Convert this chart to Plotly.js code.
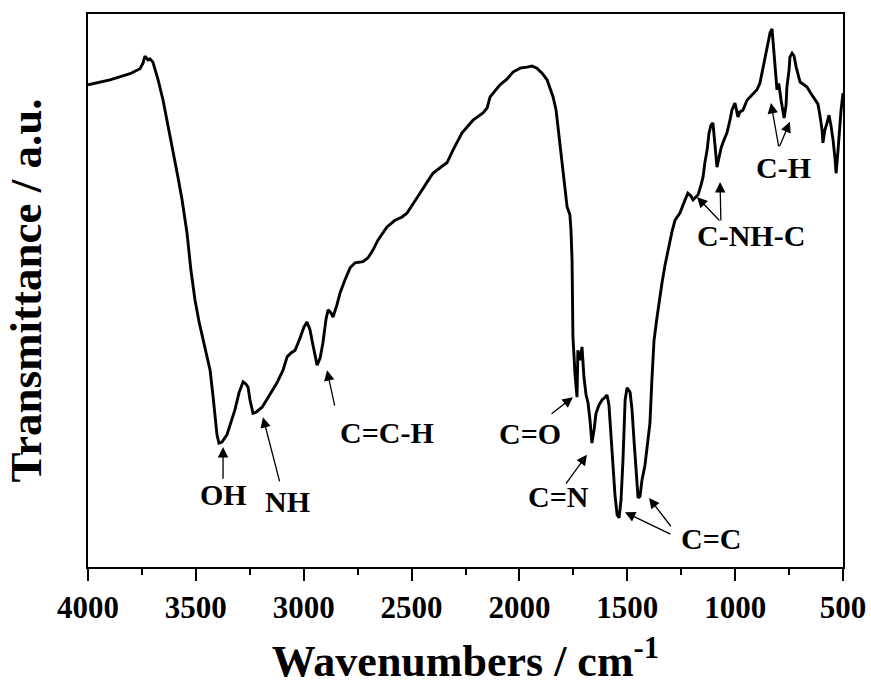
<!DOCTYPE html>
<html>
<head>
<meta charset="utf-8">
<script src="https://cdn.plot.ly/plotly-3.0.1.min.js"></script>
<style>
  html, body { margin: 0; padding: 0; background: #ffffff; }
  #chart { width: 871px; height: 686px; }
</style>
</head>
<body>
<div id="chart"></div>
<script>
// FTIR spectrum: wavenumber (cm^-1) vs. transmittance (arbitrary units)
const wavenumber = [
  4000, 3898, 3805, 3759, 3745, 3736, 3722, 3713, 3699, 3675,
  3652, 3629, 3606, 3583, 3564, 3541, 3523, 3504, 3485, 3467,
  3448, 3434, 3421, 3411, 3402, 3393, 3379, 3356, 3337, 3319,
  3300, 3281, 3268, 3258, 3249, 3235, 3221, 3193, 3166, 3124,
  3096, 3077, 3059, 3040, 3017, 2999, 2985, 2971, 2957, 2938,
  2924, 2911, 2897, 2887, 2873, 2864, 2846, 2832, 2809, 2785,
  2762, 2725, 2702, 2679, 2656, 2632, 2614, 2577, 2544, 2521,
  2489, 2461, 2428, 2401, 2368, 2336, 2308, 2266, 2215, 2169,
  2150, 2136, 2090, 2058, 2030, 1997, 1965, 1942, 1919, 1895,
  1872, 1858, 1844, 1830, 1821, 1812, 1798, 1789, 1779, 1766,
  1761, 1756, 1754, 1752, 1742, 1733, 1729, 1719, 1710, 1701,
  1691, 1682, 1673, 1664, 1654, 1645, 1631, 1617, 1603, 1594,
  1585, 1575, 1566, 1557, 1547, 1538, 1529, 1520, 1510, 1501,
  1487, 1478, 1469, 1460, 1450, 1441, 1432, 1418, 1404, 1395,
  1386, 1376, 1362, 1348, 1339, 1325, 1311, 1293, 1279, 1256,
  1232, 1219, 1205, 1195, 1182, 1172, 1158, 1149, 1140, 1130,
  1121, 1112, 1103, 1093, 1084, 1075, 1065, 1052, 1038, 1024,
  1015, 1001, 987, 978, 964, 945, 931, 917, 899, 885,
  871, 862, 848, 838, 829, 820, 815, 806, 801, 797,
  787, 783, 773, 764, 760, 750, 746, 736, 727, 717,
  708, 699, 681, 667, 653, 639, 625, 616, 607, 597,
  593, 584, 574, 565, 556, 546, 537, 532, 523, 518,
  509, 500
];

const transmittance = [
  87.2, 88.1, 89.2, 90.1, 91.1, 92.4, 91.7, 91.9, 91.3, 88.1,
  84.4, 79.9, 75.4, 70.5, 66.4, 60.4, 53.7, 48.3, 44.3, 41.0,
  38.0, 35.6, 31.1, 26.6, 23.9, 22.4, 22.6, 23.9, 26.2, 28.4,
  31.5, 33.5, 33.1, 32.5, 30.2, 27.8, 28.0, 28.9, 30.6, 33.3,
  35.6, 38.0, 38.7, 39.2, 41.4, 43.4, 44.3, 42.9, 40.1, 36.5,
  37.8, 40.5, 44.7, 46.5, 45.9, 45.2, 47.4, 49.5, 51.9, 54.1,
  55.0, 55.2, 55.9, 57.3, 59.1, 60.6, 61.5, 62.7, 63.3, 64.0,
  65.8, 67.6, 69.6, 71.2, 72.2, 73.1, 75.4, 78.5, 80.8, 82.1,
  83.0, 85.0, 87.2, 88.2, 89.5, 90.2, 90.4, 90.6, 90.2, 89.3,
  88.1, 86.6, 85.0, 82.6, 79.6, 76.3, 72.3, 68.2, 65.1, 63.7,
  60.9, 55.5, 48.3, 41.6, 34.7, 30.7, 39.2, 37.4, 39.8, 34.4,
  31.1, 29.7, 26.6, 22.4, 24.8, 27.8, 29.3, 30.2, 30.7, 31.1,
  29.3, 23.0, 18.1, 13.0, 9.4, 8.9, 12.1, 19.3, 30.2, 32.4,
  31.6, 28.4, 23.0, 17.5, 12.5, 12.8, 15.7, 18.4, 23.0, 26.0,
  33.8, 41.0, 45.2, 49.2, 51.4, 54.6, 57.3, 60.6, 62.7, 64.0,
  66.4, 67.6, 67.1, 66.4, 66.9, 67.3, 69.1, 70.5, 73.2, 75.4,
  78.5, 79.9, 80.3, 76.7, 72.3, 74.0, 75.8, 77.2, 78.5, 80.8,
  82.6, 83.9, 81.4, 82.3, 82.6, 84.4, 85.0, 85.4, 86.3, 87.5,
  90.2, 91.7, 94.8, 96.6, 97.3, 93.5, 90.4, 86.3, 87.2, 87.2,
  84.4, 83.2, 81.2, 83.5, 86.8, 89.9, 92.2, 92.9, 92.4, 90.4,
  89.0, 87.7, 87.2, 86.8, 85.9, 85.0, 84.3, 83.7, 81.7, 79.0,
  76.7, 79.0, 80.3, 81.7, 79.9, 77.2, 73.8, 71.2, 75.4, 78.5,
  82.6, 85.7
];

// Band assignments: label text and label position (wavenumber, transmittance)
const bandLabels = ["OH", "NH", "C=C-H", "C=O", "C=N", "C=C", "C-NH-C", "C-H"];
const labelWn    = [3374, 3073, 2614, 1951, 1821, 1112, 927, 778];
const labelT     = [13.2, 11.9, 24.4, 24.2, 12.7, 5.2, 59.9, 72.2];

// Pointer arrows: head (tipWn, tipT) and tail (tailWn, tailT)
const tipWn  = [3374, 3189, 2892, 1752, 1687, 1511, 1399, 1177, 1070, 834, 746];
const tipT   = [21.7, 27.1, 35.6, 30.7, 20.3, 9.9, 12.5, 66.9, 69.6, 83.9, 80.5];
const tailWn = [3374, 3110, 2855, 1858, 1789, 1293, 1293, 1066, 1066, 797, 797];
const tailT  = [15.7, 15.2, 28.9, 27.5, 14.8, 5.8, 7.1, 62.4, 62.4, 75.8, 75.8];

const xTicks = [4000, 3500, 3000, 2500, 2000, 1500, 1000, 500];

const serif = "Liberation Serif, Times New Roman, serif";

const annotations = [];
bandLabels.forEach((txt, i) => {
  annotations.push({
    x: labelWn[i], y: labelT[i], xref: "x", yref: "y",
    text: txt, showarrow: false,
    xanchor: "center", yanchor: "middle",
    font: { family: serif, size: 30, color: "#000", weight: "bold" }
  });
});
tipWn.forEach((w, i) => {
  annotations.push({
    x: w, y: tipT[i], xref: "x", yref: "y",
    ax: tailWn[i], ay: tailT[i], axref: "x", ayref: "y",
    text: "", showarrow: true,
    arrowhead: 2, arrowsize: 1.6, arrowwidth: 1.3, arrowcolor: "#000",
    standoff: 0, startstandoff: 0
  });
});

const trace = {
  x: wavenumber,
  y: transmittance,
  type: "scatter",
  mode: "lines",
  line: { color: "#000", width: 2.9 },
  hoverinfo: "skip"
};

const layout = {
  width: 871,
  height: 686,
  margin: { l: 88, r: 28, t: 14, b: 119 },
  paper_bgcolor: "#fff",
  plot_bgcolor: "#fff",
  showlegend: false,
  xaxis: {
    range: [4000, 500],
    tickmode: "array",
    tickvals: xTicks,
    ticktext: xTicks.map(String),
    ticks: "outside",
    ticklen: 12,
    tickwidth: 2,
    tickcolor: "#000",
    minor: { dtick: 250, ticks: "outside", ticklen: 6, tickwidth: 2, tickcolor: "#000" },
    showline: true, linewidth: 2, linecolor: "#000", mirror: true,
    showgrid: false, zeroline: false,
    tickfont: { family: serif, size: 31, color: "#000", weight: "bold" },
    title: {
      text: "Wavenumbers / cm<sup>-1</sup>",
      font: { family: serif, size: 44, color: "#000", weight: "bold" },
      standoff: 22
    }
  },
  yaxis: {
    range: [0, 100],
    showticklabels: false,
    ticks: "",
    showline: true, linewidth: 2, linecolor: "#000", mirror: true,
    showgrid: false, zeroline: false,
    title: {
      text: "Transmittance / a.u.",
      font: { family: serif, size: 45, color: "#000", weight: "bold" },
      standoff: 30
    }
  },
  annotations: annotations
};

Plotly.newPlot("chart", [trace], layout, { displayModeBar: false, staticPlot: true });
</script>
</body>
</html>
